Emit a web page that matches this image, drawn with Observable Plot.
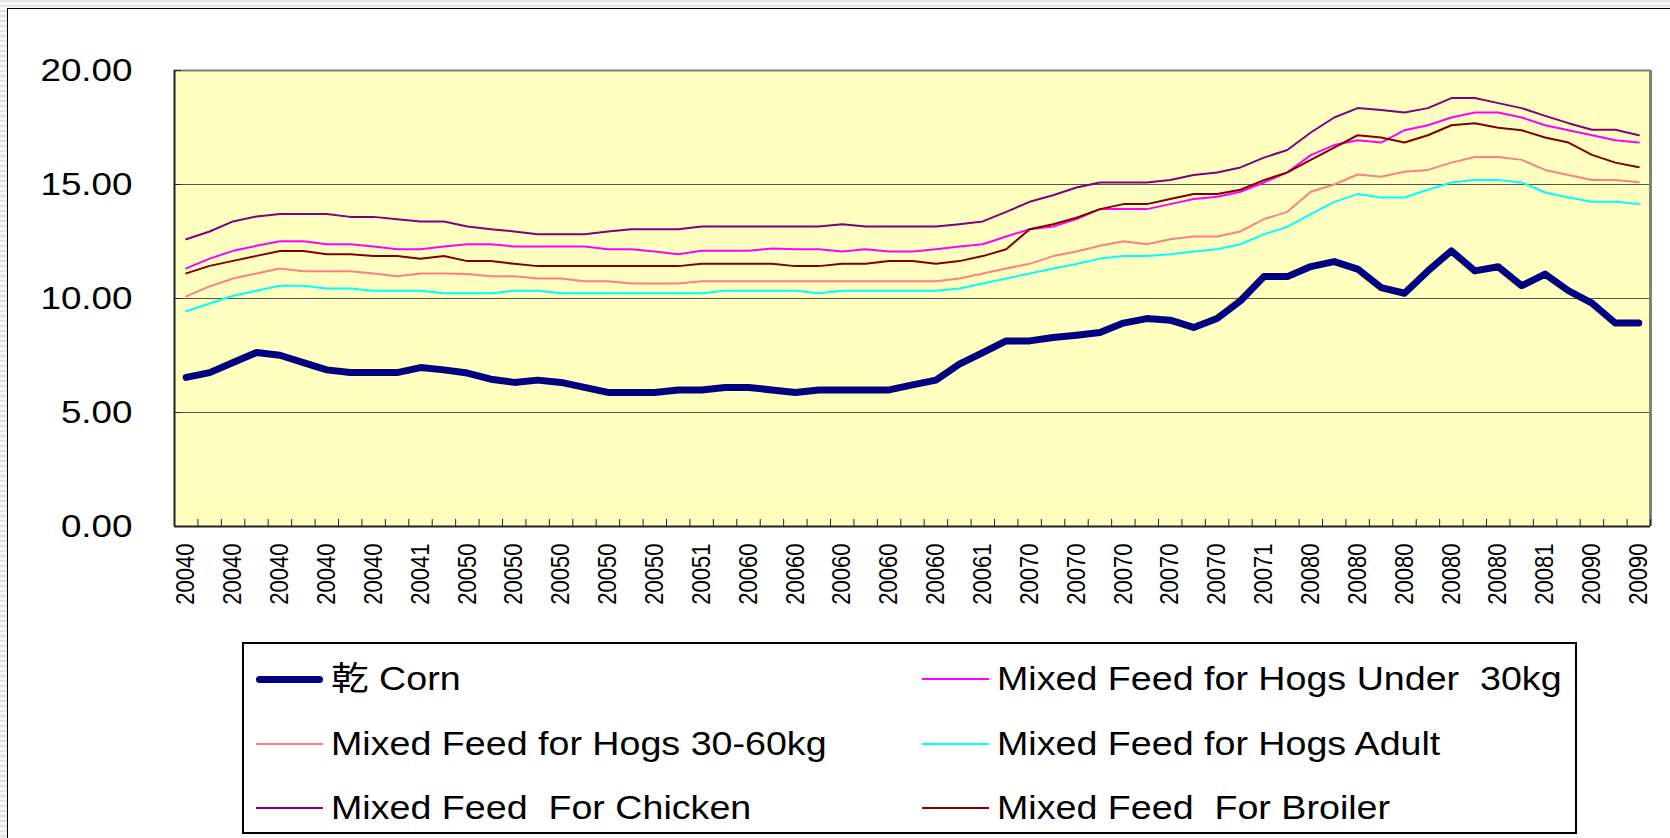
<!DOCTYPE html>
<html>
<head>
<meta charset="utf-8">
<script src="https://cdn.jsdelivr.net/npm/d3@7"></script>
<script src="https://cdn.jsdelivr.net/npm/@observablehq/plot@0.6"></script>
<style>
html, body { margin: 0; padding: 0; width: 1670px; height: 838px; overflow: hidden; }
body {
  position: relative;
  background: repeating-linear-gradient(180deg, #e4e4e4 0px, #e4e4e4 2px, #f6f6f6 2px, #f6f6f6 5px);
  font-family: "Liberation Sans", Arial, "Noto Sans CJK TC", sans-serif;
}
#frame { position: absolute; left: 7px; top: 8px; width: 1700px; height: 900px; background: #fff; border-left: 1px solid #000; border-top: 1px solid #000; }
#chart { position: absolute; left: 0; top: 0; }
#legend { position: absolute; left: 242px; top: 642px; width: 1331px; height: 188px; border: 2px solid #000; background: #fff; }
.sw { position: absolute; height: 0; }
.lt { position: absolute; font-size: 33px; line-height: 40px; white-space: pre; color: #000; transform: scaleX(1.14); transform-origin: left center; }
</style>
</head>
<body>
<div id="frame"></div>
<div id="chart"></div>
<div id="legend"></div>
<script>
// Category labels (as shown, one per monthly category, 2004/01 .. 2009/03)
const catLabels = [
  "20040","20040","20040","20040","20040","20040","20040","20040","20040","20041","20041","20041",
  "20050","20050","20050","20050","20050","20050","20050","20050","20050","20051","20051","20051",
  "20060","20060","20060","20060","20060","20060","20060","20060","20060","20061","20061","20061",
  "20070","20070","20070","20070","20070","20070","20070","20070","20070","20071","20071","20071",
  "20080","20080","20080","20080","20080","20080","20080","20080","20080","20081","20081","20081",
  "20090","20090","20090"
];
const yTicks = [0, 5, 10, 15, 20];

const corn = [6.54, 6.75, 7.19, 7.63, 7.51, 7.19, 6.87, 6.75, 6.75, 6.75, 6.97, 6.87, 6.73,
  6.46, 6.32, 6.42, 6.32, 6.10, 5.88, 5.88, 5.88, 5.99, 5.99, 6.10, 6.10, 5.99,
  5.88, 5.99, 5.99, 5.99, 5.99, 6.21, 6.42, 7.12, 7.63, 8.14, 8.14, 8.29,
  8.39, 8.51, 8.92, 9.12, 9.05, 8.73, 9.12, 9.90, 10.96, 10.96, 11.40, 11.62, 11.29,
  10.48, 10.23, 11.21, 12.09, 11.21, 11.39, 10.56, 11.07, 10.34, 9.80, 8.92, 8.92];
const hogsUnder30 = [11.32, 11.75, 12.09, 12.31, 12.51, 12.51, 12.38, 12.38, 12.28, 12.16, 12.16, 12.28, 12.38,
  12.38, 12.28, 12.28, 12.28, 12.28, 12.16, 12.16, 12.06, 11.94, 12.09, 12.09, 12.09, 12.19,
  12.16, 12.16, 12.06, 12.16, 12.06, 12.06, 12.16, 12.28, 12.38, 12.72, 13.04, 13.16,
  13.48, 13.92, 13.92, 13.92, 14.14, 14.36, 14.46, 14.68, 15.09, 15.53, 16.29, 16.73, 16.94,
  16.84, 17.38, 17.60, 17.94, 18.16, 18.16, 17.94, 17.60, 17.38, 17.16, 16.94, 16.84];
const hogs3060 = [10.09, 10.53, 10.88, 11.10, 11.32, 11.20, 11.20, 11.20, 11.10, 10.98, 11.10, 11.10, 11.07,
  10.98, 10.98, 10.88, 10.88, 10.76, 10.76, 10.66, 10.66, 10.66, 10.76, 10.76, 10.76, 10.76,
  10.76, 10.76, 10.76, 10.76, 10.76, 10.76, 10.76, 10.88, 11.10, 11.32, 11.52, 11.86,
  12.06, 12.31, 12.51, 12.38, 12.60, 12.72, 12.72, 12.94, 13.48, 13.80, 14.68, 15.00, 15.44,
  15.34, 15.56, 15.64, 15.96, 16.21, 16.21, 16.08, 15.64, 15.42, 15.20, 15.20, 15.10];
const hogsAdult = [9.44, 9.78, 10.12, 10.34, 10.56, 10.56, 10.44, 10.44, 10.34, 10.34, 10.34, 10.23, 10.23,
  10.23, 10.34, 10.34, 10.23, 10.23, 10.23, 10.23, 10.23, 10.23, 10.23, 10.34, 10.34, 10.34,
  10.34, 10.23, 10.34, 10.34, 10.34, 10.34, 10.34, 10.44, 10.66, 10.88, 11.10, 11.32,
  11.51, 11.75, 11.86, 11.86, 11.94, 12.06, 12.16, 12.38, 12.82, 13.14, 13.70, 14.24, 14.58,
  14.43, 14.43, 14.77, 15.09, 15.20, 15.20, 15.09, 14.65, 14.43, 14.24, 14.24, 14.14];
const chicken = [12.60, 12.94, 13.38, 13.60, 13.71, 13.71, 13.71, 13.58, 13.58, 13.48, 13.38, 13.38, 13.16,
  13.04, 12.94, 12.82, 12.82, 12.82, 12.94, 13.04, 13.04, 13.04, 13.16, 13.16, 13.16, 13.16,
  13.16, 13.16, 13.26, 13.16, 13.16, 13.16, 13.16, 13.26, 13.38, 13.80, 14.24, 14.53,
  14.87, 15.09, 15.09, 15.09, 15.20, 15.42, 15.53, 15.75, 16.18, 16.51, 17.28, 17.94, 18.35,
  18.27, 18.16, 18.35, 18.79, 18.79, 18.57, 18.35, 18.01, 17.69, 17.40, 17.40, 17.16];
const broiler = [11.10, 11.43, 11.65, 11.87, 12.08, 12.08, 11.94, 11.94, 11.86, 11.86, 11.74, 11.86, 11.64,
  11.64, 11.52, 11.42, 11.42, 11.42, 11.42, 11.42, 11.42, 11.42, 11.52, 11.52, 11.52, 11.52,
  11.42, 11.42, 11.52, 11.52, 11.64, 11.64, 11.52, 11.64, 11.86, 12.16, 13.04, 13.26,
  13.54, 13.92, 14.14, 14.14, 14.36, 14.58, 14.58, 14.77, 15.19, 15.53, 16.08, 16.62, 17.16,
  17.06, 16.84, 17.16, 17.60, 17.69, 17.49, 17.38, 17.06, 16.84, 16.30, 15.96, 15.76];

const seriesNames = ["乾 Corn", "Mixed Feed for Hogs Under  30kg", "Mixed Feed for Hogs 30-60kg",
  "Mixed Feed for Hogs Adult", "Mixed Feed  For Chicken", "Mixed Feed  For Broiler"];
const seriesColors = ["#000080", "#ff00ff", "#ff8080", "#00ffff", "#800080", "#800000"];
const seriesValues = [corn, hogsUnder30, hogs3060, hogsAdult, chicken, broiler];
const seriesWidths = [7, 2, 2, 2, 2, 2];

const n = catLabels.length;
const idx = d3.range(n);
const labelIdx = idx.filter(i => i % 2 === 0);
const boundaries = d3.range(n + 1).map(i => i - 0.5);

const lineMarks = seriesValues.map((vals, s) =>
  Plot.lineY(vals.map((v, i) => ({i, v})), {
    x: "i", y: "v", stroke: seriesColors[s], strokeWidth: seriesWidths[s],
    strokeLinejoin: "round", strokeLinecap: "round"
  })
);

const chart = Plot.plot({
  width: 1670,
  height: 640,
  marginLeft: 174,
  marginRight: 20,
  marginTop: 70,
  marginBottom: 114,
  style: {background: "transparent", fontFamily: "'Liberation Sans', Arial, sans-serif", color: "#000"},
  x: {type: "linear", domain: [-0.5, n - 0.5], axis: null},
  y: {domain: [0, 20], axis: null},
  marks: [
    Plot.frame({fill: "#ffffc0", stroke: "none"}),
    Plot.ruleY([5, 10, 15], {stroke: "#555548", strokeWidth: 1}),
    Plot.ruleY([20], {stroke: "#808080", strokeWidth: 2}),
    Plot.ruleX([n - 0.5], {stroke: "#808080", strokeWidth: 3}),
    Plot.ruleY(yTicks, {x1: -0.5, x2: -0.5, insetRight: -7, stroke: "#222", strokeWidth: 1}),
    Plot.ruleX(boundaries, {y1: 0, y2: 0, insetTop: -7, stroke: "#222", strokeWidth: 1}),
    Plot.ruleX([-0.5], {stroke: "#222", strokeWidth: 2}),
    Plot.ruleY([0], {stroke: "#222", strokeWidth: 2}),
    ...lineMarks,
    Plot.axisY({ticks: yTicks, tickFormat: d => d.toFixed(2), tickSize: 0, tickPadding: 42, fontSize: 32, label: null}),
    Plot.axisX({ticks: labelIdx, tickFormat: i => catLabels[i], tickSize: 0, tickPadding: 17, tickRotate: -90, fontSize: 22, label: null})
  ]
});
document.getElementById("chart").appendChild(chart);

// Excel-like horizontal stretch of text
d3.select(chart).selectAll('g[aria-label="y-axis tick label"] text').each(function() {
  const t = this.getAttribute("transform") || "";
  this.setAttribute("transform", t + " scale(1.15,1)");
});
d3.select(chart).selectAll('g[aria-label="x-axis tick label"] text').each(function() {
  const t = this.getAttribute("transform") || "";
  this.setAttribute("transform", t.includes("rotate") ? t.replace("rotate", "scale(1.17,1) rotate") : t + " scale(1.17,1)");
});

// Legend (two columns, row-major)
const legend = document.getElementById("legend");
const rowCenters = [35, 99.5, 164];
const colSwatch = [12, 678];
const colText = [87, 753];
seriesNames.forEach((name, s) => {
  const r = Math.floor(s / 2), c = s % 2;
  const sw = document.createElement("div");
  sw.className = "sw";
  sw.style.left = colSwatch[c] + "px";
  sw.style.width = "67px";
  sw.style.top = (rowCenters[r] - seriesWidths[s] / 2) + "px";
  sw.style.height = seriesWidths[s] + "px";
  sw.style.background = seriesColors[s];
  if (seriesWidths[s] > 3) sw.style.borderRadius = "4px";
  legend.appendChild(sw);
  const tx = document.createElement("div");
  tx.className = "lt";
  tx.style.left = colText[c] + "px";
  tx.style.top = (rowCenters[r] - 20) + "px";
  tx.textContent = name;
  legend.appendChild(tx);
});
</script>
</body>
</html>
